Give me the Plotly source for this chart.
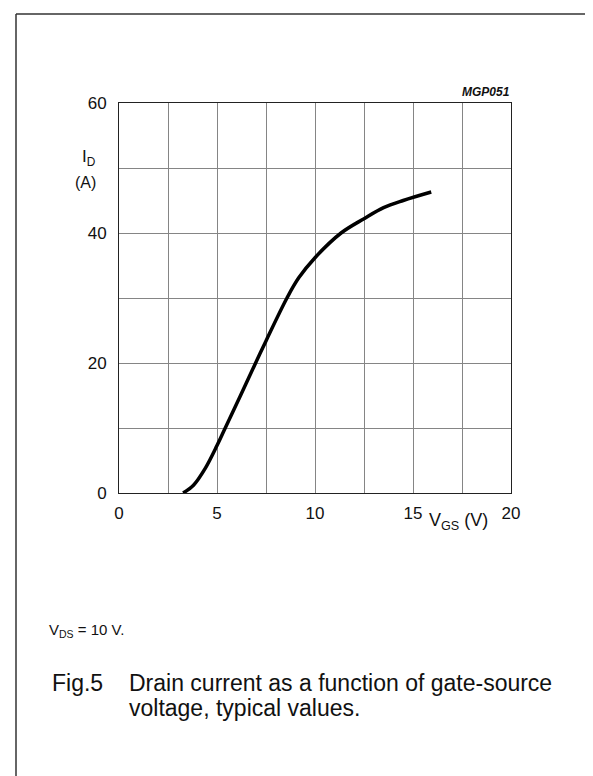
import plotly.graph_objects as go

# ---- data ----
vgs = [3.27, 3.8, 4.4, 5.0, 5.42, 6.2, 6.97, 7.5, 8.57, 9.17, 10.0, 11.33, 12.5, 13.5, 14.5, 15.93]
id_a = [0.0, 1.2, 3.8, 7.3, 10.0, 15.0, 20.0, 23.4, 30.0, 33.1, 36.2, 40.0, 42.2, 43.9, 45.0, 46.3]

x_ticks = [0, 5, 10, 15, 20]
y_ticks = [0, 20, 40, 60]

W, H = 593, 776
L, R, T, B = 111, 503, 95, 485  # plot area in pixels


def px(x):
    return (x - L) / (R - L)


def py(y):
    return (B - y) / (B - T)


FONT = "Liberation Sans, Arial, sans-serif"
GRID = "#858585"

fig = go.Figure()
fig.add_trace(go.Scatter(
    x=vgs, y=id_a, mode="lines",
    line=dict(color="black", width=3.5, shape="spline", smoothing=1.0),
    showlegend=False, hoverinfo="skip",
))

fig.update_layout(
    width=W, height=H,
    margin=dict(l=L, r=W - R, t=T, b=H - B, pad=0),
    paper_bgcolor="white", plot_bgcolor="white",
    font=dict(family=FONT, size=17, color="#111"),
    xaxis=dict(
        range=[0, 20], tickvals=x_ticks, ticks="", ticklabelstandoff=5,
        showgrid=True, gridcolor=GRID, gridwidth=1,
        minor=dict(dtick=2.5, tick0=0, showgrid=True, gridcolor=GRID, gridwidth=1, ticks=""),
        showline=True, linecolor="#222", linewidth=1, mirror=True,
        zeroline=False, fixedrange=True,
    ),
    yaxis=dict(
        range=[0, 60], tickvals=y_ticks, ticks="", ticklabelstandoff=8,
        showgrid=True, gridcolor=GRID, gridwidth=1,
        minor=dict(dtick=10, tick0=0, showgrid=True, gridcolor=GRID, gridwidth=1, ticks=""),
        showline=True, linecolor="#222", linewidth=1, mirror=True,
        zeroline=False, fixedrange=True,
    ),
)

ann = []
# axis labels
ann.append(dict(text="I<sub>D</sub>", x=px(89), y=py(150), xanchor="right", yanchor="middle",
                font=dict(size=17)))
ann.append(dict(text="(A)", x=px(89), y=py(174), xanchor="right", yanchor="middle",
                font=dict(size=16)))
ann.append(dict(text="V<sub>GS</sub> (V)", x=px(420), y=py(513), xanchor="left", yanchor="middle",
                font=dict(size=18)))
# figure code
ann.append(dict(text="MGP051", x=px(503), y=py(84), xanchor="right", yanchor="middle",
                font=dict(size=12, style="italic", weight="bold")))
# condition and caption
ann.append(dict(text="V<sub>DS</sub> = 10 V.", x=px(40), y=py(622), xanchor="left", yanchor="middle",
                font=dict(size=15)))
ann.append(dict(text="Fig.5", x=px(43), y=py(675), xanchor="left", yanchor="middle",
                font=dict(size=23)))
ann.append(dict(text="Drain current as a function of gate-source", x=px(120), y=py(675),
                xanchor="left", yanchor="middle", font=dict(size=23)))
ann.append(dict(text="voltage, typical values.", x=px(120), y=py(700),
                xanchor="left", yanchor="middle", font=dict(size=23)))

for a in ann:
    a.update(xref="paper", yref="paper", showarrow=False, borderpad=0)
fig.update_layout(annotations=ann)

# page frame (left and top edges)
fig.add_shape(type="line", xref="paper", yref="paper",
              x0=px(8), y0=py(6), x1=px(8), y1=py(H), line=dict(color="#333", width=1.5))
fig.add_shape(type="line", xref="paper", yref="paper",
              x0=px(8), y0=py(6), x1=px(W), y1=py(6), line=dict(color="#333", width=1.5))

fig.write_html("out.html")
